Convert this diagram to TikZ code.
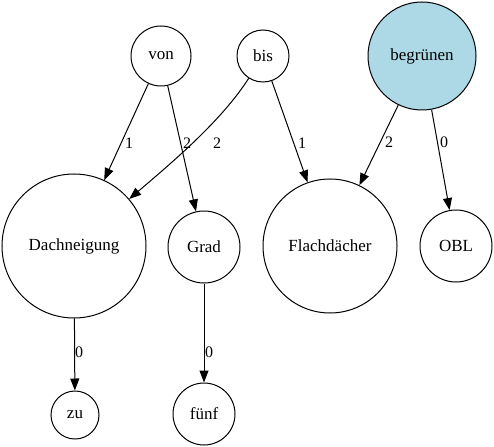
\documentclass[tikz,border=0pt]{standalone}
\usepackage{fontspec}
\setmainfont{Liberation Serif}
\usetikzlibrary{arrows.meta}
\definecolor{lb}{RGB}{173,216,230}
\begin{document}
\begin{tikzpicture}[x=1pt,y=-1pt,
  nd/.style={circle,draw,line width=1pt,inner sep=0pt,font=\fontsize{17}{20}\selectfont},
  ed/.style={-{Triangle[length=12pt,width=9pt]},line width=1pt},
  lbl/.style={font=\fontsize{16}{19}\selectfont,inner sep=0pt}]
\useasboundingbox (0,0) rectangle (494,446);
\node[nd,minimum size=60pt] (von) at (161,56) {von};
\node[nd,minimum size=52pt] (bis) at (263,56) {bis};
\node[nd,minimum size=108pt,fill=lb] (beg) at (422,56) {begrünen};
\node[nd,minimum size=144pt] (dach) at (74,246) {Dachneigung};
\node[nd,minimum size=72pt] (grad) at (204,247) {Grad};
\node[nd,minimum size=134pt] (flach) at (330,246) {Flachdächer};
\node[nd,minimum size=72pt] (obl) at (456,246) {OBL};
\node[nd,minimum size=48pt] (zu) at (75,415) {zu};
\node[nd,minimum size=62pt] (fuenf) at (204,414) {fünf};

\draw[ed] (von) -- (dach);
\draw[ed] (von) -- (grad);
\draw[ed] (bis) .. controls (222,120) and (175,160) .. (dach);
\draw[ed] (bis) -- (flach);
\draw[ed] (beg) -- (flach);
\draw[ed] (beg) -- (obl);
\draw[ed] (dach) -- (zu);
\draw[ed] (grad) -- (fuenf);

\node[lbl] (l1) at (129,143) {1};
\node[lbl] (l2) at (187,143) {2};
\node[lbl] (l3) at (217,143) {2};
\node[lbl] (l4) at (302,143) {1};
\node[lbl] (l5) at (389,142) {2};
\node[lbl] (l6) at (444,142) {0};
\node[lbl] (l7) at (79,352) {0};
\node[lbl] (l8) at (209,352) {0};
\end{tikzpicture}
\end{document}
